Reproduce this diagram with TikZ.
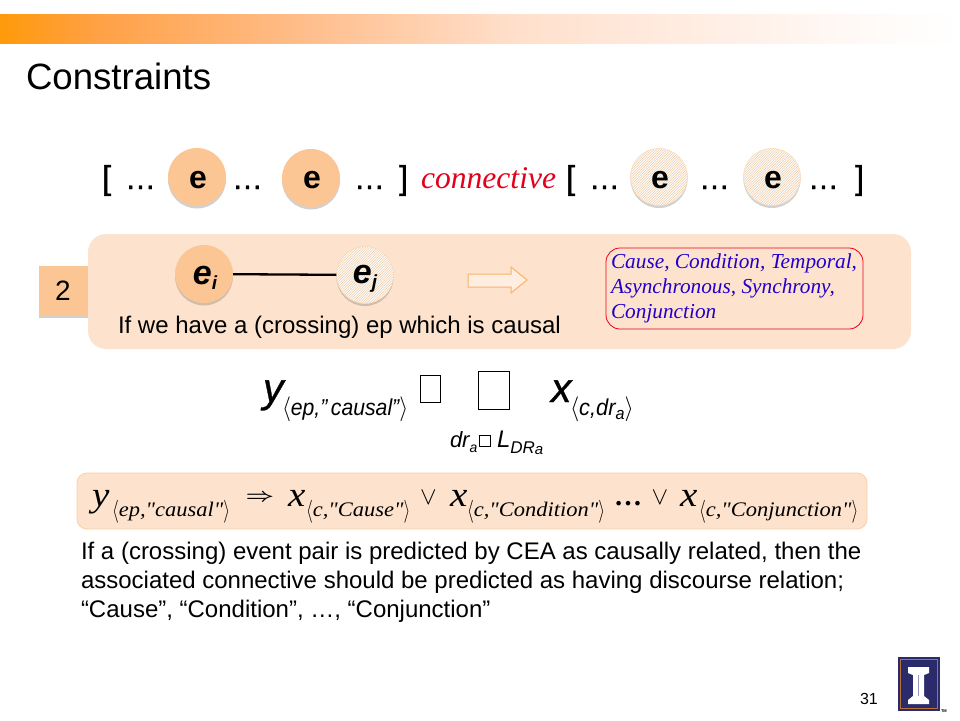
\documentclass[tikz,border=0pt]{standalone}
\usepackage{fontspec}
\setmainfont{Liberation Sans}
\newfontfamily\seriffam{Liberation Serif}
\newfontface\fboldface[FakeBold=1]{Liberation Sans}
\newfontface\fbolditalic[FakeBold=.8]{Liberation Sans Italic}
\usetikzlibrary{shadows,calc}
\definecolor{circfill}{HTML}{FBC594}
\definecolor{bandfill}{HTML}{FDE3CD}
\definecolor{hatchcol}{HTML}{EBCBA5}
\definecolor{bluetext}{HTML}{2200CC}
\definecolor{redtext}{HTML}{E3001B}
\definecolor{logonavy}{HTML}{2B2B6B}
\definecolor{logoedge}{HTML}{B5703A}
\definecolor{arrowedge}{HTML}{F9B266}
\pgfdeclarehorizontalshading{barshade}{100bp}{
 rgb(0bp)=(1,.604,.04);
 rgb(25bp)=(1,.604,.04);
 rgb(30bp)=(1,.63,.27);
 rgb(41bp)=(1,.745,.55);
 rgb(52bp)=(1,.878,.8);
 rgb(62bp)=(1,.933,.894);
 rgb(70bp)=(1,.98,.97);
 rgb(75bp)=(1,1,1);
 rgb(100bp)=(1,1,1)}
\newcommand{\fs}[1]{\fontsize{#1}{#1}\selectfont}
\newcommand{\angl}[2]{{\fs{#1}$\langle$}#2{\fs{#1}$\rangle$}}
\newcommand{\anglb}[1]{\raisebox{-2pt}{\scalebox{.7}[1]{\fs{33}$\langle$}}#1\raisebox{-2pt}{\scalebox{.7}[1]{\fs{33}$\rangle$}}}
\tikzset{
 txt/.style={anchor=base west,inner sep=0pt,outer sep=0pt},
 softshadow/.style={drop shadow={shadow xshift=0pt,shadow yshift=-2.5pt,opacity=.3,fill=black!60}},
 solidball/.style={circle,minimum size=58pt,inner sep=0pt,fill=circfill,softshadow},
 hatchball/.style={circle,minimum size=57pt,inner sep=0pt,fill=white,draw=circfill!70,line width=.5pt,softshadow,
   path picture={\foreach \a in {-70,-67.5,...,70}{
     \draw[hatchcol,line width=.4pt] ($(path picture bounding box.center)+(\a-40,40)$) -- ($(path picture bounding box.center)+(\a+40,-40)$);}}},
 toplabel/.style={txt,font=\fboldface\fs{31}},
 topbracket/.style={txt,font=\fboldface\fs{33}},
 letter/.style={font=\bfseries\fs{32},inner sep=0pt},
 letterij/.style={font=\bfseries\itshape\fs{34},inner sep=0pt},
 emptybox/.style={draw=black,line width=.7pt,fill=white},
 bodytext/.style={txt,font=\fs{24}},
 bigmath/.style={txt,font=\fbolditalic\fs{41}},
 submath/.style={txt,font=\itshape\fs{23},xscale=.95},
 fmla/.style={txt,font=\seriffam\itshape\fs{39},yscale=.9},
 fsub/.style={txt,font=\seriffam\itshape\fs{22.5},yscale=.92},
 ormark/.style={inner sep=0pt,outer sep=0pt,font=\fs{30}},
 bluerow/.style={txt,font=\seriffam\itshape\fs{21.3},text=bluetext},
}
\begin{document}
\begin{tikzpicture}[x=1pt,y=-1pt]
\useasboundingbox (0,0) rectangle (960,720);
% top bar
\fill[shading=barshade] (0,14) rectangle (960,43.5);
\node[txt,font=\fs{36.6}] (title) at (26,89) {Constraints};
% top row
\node[topbracket] (b1) at (102,189) {[};
\node[toplabel] (d1) at (125,189) {…};
\node[solidball] (c1) at (197,177) {};
\node[letter] (c1t) at (198,180) {e};
\node[toplabel] (d2) at (232,189) {…};
\node[solidball] (c2) at (311,178) {};
\node[letter] (c2t) at (312,180) {e};
\node[toplabel] (d3) at (354,189) {…};
\node[topbracket] (b2) at (399,189) {]};
\node[txt,font=\seriffam\itshape\fs{31.6},text=redtext] (conn) at (421,188) {connective};
\node[topbracket] (b3) at (566,189) {[};
\node[toplabel] (d4) at (589,189) {…};
\node[hatchball] (c3) at (659,177) {};
\node[letter] (c3t) at (660,180) {e};
\node[toplabel] (d5) at (699,189) {…};
\node[hatchball] (c4) at (772,177) {};
\node[letter] (c4t) at (773,180) {e};
\node[toplabel] (d6) at (808,189) {…};
\node[topbracket] (b4) at (855,189) {]};
% band
\node[fill=bandfill,rounded corners=18pt,minimum width=823pt,minimum height=115pt,inner sep=0pt] (band) at (499.5,291.5) {};
\node[rectangle,minimum width=49pt,minimum height=49pt,inner sep=0pt,fill=circfill,softshadow,font=\fs{28}] (two) at (63,290.5) {2};
\node[solidball] (ei) at (204,274) {};
\node[hatchball] (ej) at (365,275) {};
\draw[black,line width=2.3pt] (ei) -- (ej);
\node[letterij] (eit) at (205,278) {e\raisebox{-5pt}{\fs{19}i}};
\node[letterij] (ejt) at (365,279) {e\raisebox{-5pt}{\fs{19}j}};
\node[bodytext] (iftext) at (118,333) {If we have a (crossing) ep which is causal};
% hollow arrow
\draw[draw=arrowedge,line width=1pt,fill=bandfill!60] (468,274) -- (511,274) -- (511,267) -- (527,280) -- (511,293) -- (511,287) -- (468,287) -- cycle;
% red box
\node[draw=redtext,rounded corners=14pt,line width=.8pt,minimum width=257pt,minimum height=81pt,inner sep=0pt] (redbox) at (734.5,288.5) {};
\node[bluerow] (r1) at (611,268) {Cause, Condition, Temporal,};
\node[bluerow] (r2) at (611,293) {Asynchronous, Synchrony,};
\node[bluerow] (r3) at (611,318) {Conjunction};
% formula 1
\node[bigmath] (y1) at (263,402) {y};
\node[submath,xscale=.97] (y1s) at (282,415) {\angl{27}{ep,"\,causal"}};
\node[emptybox,minimum width=20pt,minimum height=27pt,inner sep=0pt] (tf1) at (430.5,388.5) {};
\node[emptybox,minimum width=31pt,minimum height=38pt,inner sep=0pt] (tf2) at (493.5,390) {};
\node[bigmath] (x1) at (551,402) {x};
\node[submath] (x1s) at (570,415) {\angl{27}{c,dr\raisebox{-4pt}{\fs{17}a}}};
\node[txt,font=\itshape\fs{22}] (dr) at (450,447) {dr\raisebox{-5pt}{\fs{14}a}};
\node[emptybox,line width=.5pt,minimum width=11pt,minimum height=11pt,inner sep=0pt] (tf3) at (484.5,440.5) {};
\node[txt,font=\itshape\fs{24}] (ldr) at (497,447) {L\raisebox{-6pt}{\fs{17}DR\raisebox{-1pt}{\fs{15}a}}};
% formula 2
\node[draw=circfill!85!white,fill=bandfill,rounded corners=10pt,line width=.8pt,minimum width=790pt,minimum height=56pt,inner sep=0pt] (fbox) at (472,501) {};
\node[fmla] (y2) at (92,506) {y};
\node[fsub] (y2s) at (112,516) {\anglb{ep,"causal"}};
\node[inner sep=0pt,outer sep=0pt,font=\boldmath\fs{37},yscale=.75] (impl) at (260,497.5) {$\Rightarrow$};
\node[fmla] (x2) at (288,506) {x};
\node[fsub] (x2s) at (306,516) {\anglb{c,"Cause"}};
\node[ormark] (or1) at (428.5,497.5) {$\vee$};
\node[fmla] (x3) at (450,506) {x};
\node[fsub] (x3s) at (467,516) {\anglb{c,"Condition"}};
\node[txt,font=\seriffam\bfseries\fs{28}] (dots) at (614,505) {…};
\node[ormark] (or2) at (660,497.5) {$\vee$};
\node[fmla] (x4) at (680,506) {x};
\node[fsub] (x4s) at (699,516) {\anglb{c,"Conjunction"}};
% body
\node[bodytext] (l1) at (81,559) {If a (crossing) event pair is predicted by CEA as causally related, then the};
\node[bodytext] (l2) at (81,588) {associated connective should be predicted as having discourse relation;};
\node[bodytext] (l3) at (81,617) {“Cause”, “Condition”, …, “Conjunction”};
\node[txt,font=\fs{16}] (num) at (860,704) {31};
% logo
\fill[logonavy] (898,657) rectangle (940,711);
\draw[logoedge,line width=1pt] (900.5,659.5) rectangle (937.5,708.5);
\fill[white] (908,667) -- (929,667) -- (929,673) -- (924,675) -- (924,696) -- (929,700) -- (929,704) -- (908,704) -- (908,700) -- (913,696) -- (913,675) -- (908,673) -- cycle;
\draw[logonavy!50,line width=.7pt] (918.5,675) -- (918.5,696);
\node[txt,font=\bfseries\fs{4}] (tm) at (941,712) {TM};
\end{tikzpicture}
\end{document}
